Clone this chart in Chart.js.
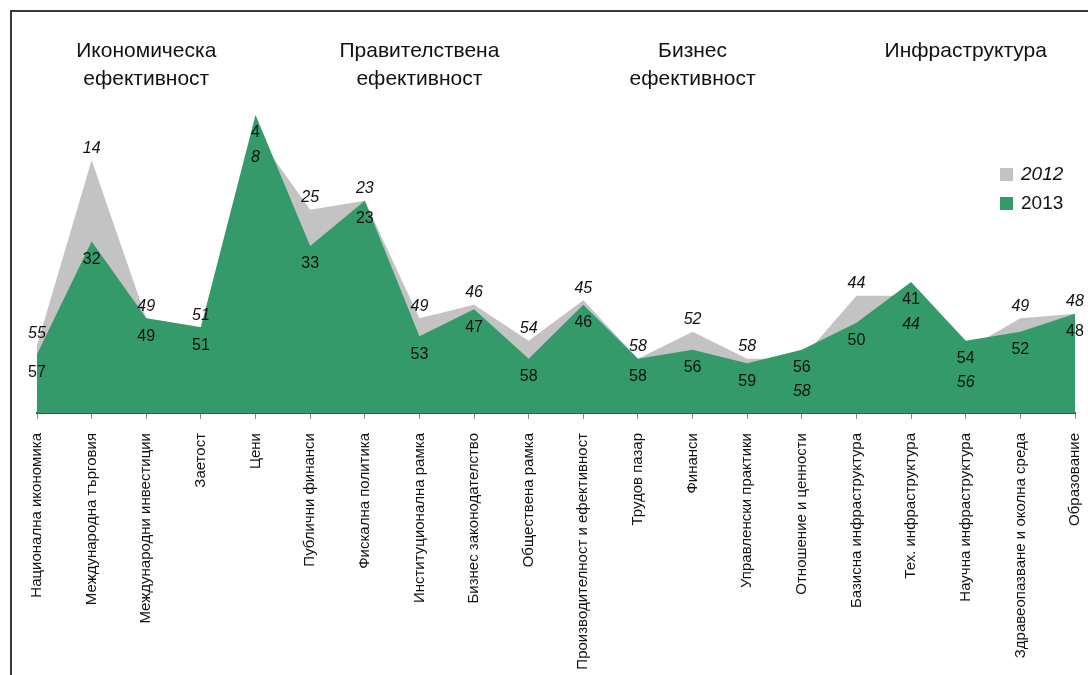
<!DOCTYPE html>
<html lang="bg">
<head>
<meta charset="utf-8">
<script src="https://cdn.jsdelivr.net/npm/chart.js@4.4.0/dist/chart.umd.min.js"></script>
<style>
    html, body { margin: 0; padding: 0; background: #fff; }
    #wrap { position: relative; width: 1088px; height: 675px; }
</style>
</head>
<body>
<div id="wrap"><canvas id="chart" width="1088" height="675"></canvas></div>
<script>
// Категории (фактори)
const categories = [
    'Национална икономика', 'Международна търговия', 'Международни инвестиции', 'Заетост', 'Цени',
    'Публични финанси', 'Фискална политика', 'Институционална рамка', 'Бизнес законодателство', 'Обществена рамка',
    'Производителност и ефективност', 'Трудов пазар', 'Финанси', 'Управленски практики', 'Отношение и ценности',
    'Базисна инфраструктура', 'Тех. инфраструктура', 'Научна инфраструктура', 'Здравеопазване и околна среда', 'Образование'
];

// Класиране по години
const rank2012 = [55, 14, 49, 51, 8, 25, 23, 49, 46, 54, 45, 58, 52, 58, 58, 44, 44, 56, 49, 48];
const rank2013 = [57, 32, 49, 51, 4, 33, 23, 53, 47, 58, 46, 58, 56, 59, 56, 50, 41, 54, 52, 48];

// Групи от по 5 фактора
const groupTitles = [
    ['Икономическа', 'ефективност'],
    ['Правителствена', 'ефективност'],
    ['Бизнес', 'ефективност'],
    ['Инфраструктура']
];
const groupSize = 5;

const seriesNames = ['2012', '2013'];
const GREEN = '#349a69';
const GRAY = '#c3c3c3';
const FONT = '"Liberation Sans", Arial, sans-serif';

// Плъгин за рамка, заглавия на групи, стойности и легенда
const decorPlugin = {
    id: 'decor',
    beforeDraw(chart) {
        const ctx = chart.ctx;
        ctx.save();
        ctx.strokeStyle = '#3a3a3a';
        ctx.lineWidth = 2;
        ctx.beginPath();
        ctx.moveTo(11, 675);
        ctx.lineTo(11, 11);
        ctx.lineTo(1088, 11);
        ctx.stroke();
        ctx.restore();
    },
    afterDatasetsDraw(chart) {
        const ctx = chart.ctx;
        const xs = chart.scales.x;
        const ys = chart.scales.y;
        ctx.save();
        ctx.fillStyle = '#111';
        ctx.textAlign = 'center';
        ctx.textBaseline = 'middle';

        // Заглавия на групите
        ctx.font = '21px ' + FONT;
        groupTitles.forEach((lines, g) => {
            const cx = (xs.getPixelForValue(g * groupSize) + xs.getPixelForValue(g * groupSize + groupSize - 1)) / 2;
            lines.forEach((line, i) => ctx.fillText(line, cx, 51 + i * 28));
        });

        // Стойности
        categories.forEach((c, i) => {
            const px = xs.getPixelForValue(i);
            const v12 = rank2012[i];
            const v13 = rank2013[i];
            const y13 = ys.getPixelForValue(v13);
            const y12 = ys.getPixelForValue(v12);
            ctx.font = '16px ' + FONT;
            ctx.fillText(String(v13), px, y13 + 18);
            ctx.font = 'italic 16px ' + FONT;
            if (v12 <= v13) {
                ctx.fillText(String(v12), px, y12 - 12);
            } else {
                ctx.fillText(String(v12), px, y13 + 42);
            }
        });

        // Легенда
        const items = [[seriesNames[0], GRAY, 'italic '], [seriesNames[1], GREEN, '']];
        items.forEach((it, i) => {
            const ly = 174 + i * 29;
            ctx.fillStyle = it[1];
            ctx.fillRect(1000, ly - 6, 13, 13);
            ctx.fillStyle = '#111';
            ctx.textAlign = 'left';
            ctx.font = it[2] + '19px ' + FONT;
            ctx.fillText(it[0], 1021, ly + 1);
        });
        ctx.restore();
    }
};

const ctx = document.getElementById('chart').getContext('2d');
new Chart(ctx, {
    type: 'line',
    data: {
        labels: categories,
        datasets: [
            {
                label: seriesNames[0],
                data: rank2012,
                backgroundColor: GRAY,
                borderWidth: 0,
                pointRadius: 0,
                fill: { value: 70 },
                order: 2
            },
            {
                label: seriesNames[1],
                data: rank2013,
                backgroundColor: GREEN,
                borderWidth: 0,
                pointRadius: 0,
                fill: { value: 70 },
                order: 1
            }
        ]
    },
    options: {
        responsive: false,
        animation: false,
        layout: { padding: { left: 37, right: 13, top: 97, bottom: 0 } },
        plugins: {
            legend: { display: false },
            tooltip: { enabled: false }
        },
        scales: {
            x: {
                offset: false,
                afterFit(scale) {
                    scale.height = 262;
                    scale.paddingLeft = 0;
                    scale.paddingRight = 0;
                },
                grid: { drawOnChartArea: false, drawTicks: true, tickLength: 6, color: '#8a8a8a' },
                border: { display: true, color: '#2f5f45', width: 2 },
                ticks: {
                    autoSkip: false,
                    maxRotation: 90,
                    minRotation: 90,
                    padding: 14,
                    color: '#111',
                    font: { family: FONT, size: 15 }
                }
            },
            y: {
                display: false,
                reverse: true,
                min: 0,
                max: 70
            }
        }
    },
    plugins: [decorPlugin]
});
</script>
</body>
</html>
